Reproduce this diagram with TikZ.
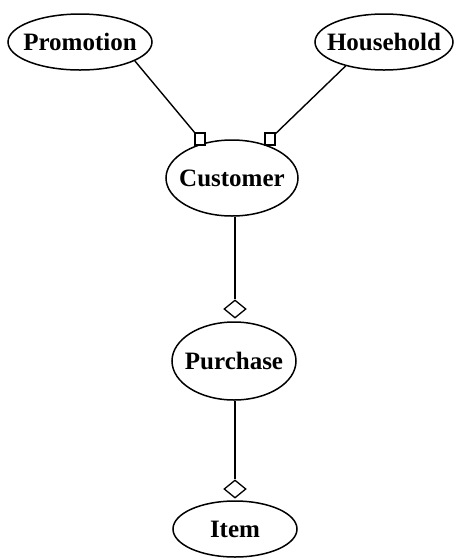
\documentclass[tikz,border=0pt]{standalone}
\usepackage{fontspec}
\setmainfont{Liberation Serif}
\usetikzlibrary{shapes.geometric}
\begin{document}
\begin{tikzpicture}[x=1pt,y=-1pt,
  ent/.style={ellipse,draw,line width=1.5pt,inner sep=0pt,fill=white},
  lbl/.style={font=\fontsize{25}{29}\selectfont\bfseries},
  sqmark/.style={rectangle,draw,line width=1.3pt,fill=white,minimum width=10pt,minimum height=12pt,inner sep=0pt},
  dmark/.style={diamond,draw,line width=1.3pt,fill=white,minimum width=22pt,minimum height=18pt,inner sep=0pt},
  conn/.style={line width=1.4pt}]
\useasboundingbox (0,0) rectangle (454,558);
\node[ent,minimum width=144pt,minimum height=56pt,label={[lbl]center:Promotion}] (prom) at (80,42) {};
\node[ent,minimum width=138pt,minimum height=56pt,label={[lbl]center:Household}] (hous) at (384,42) {};
\node[ent,minimum width=132pt,minimum height=76pt,label={[lbl]center:Customer}] (cust) at (232,178) {};
\node[ent,minimum width=124pt,minimum height=78pt,label={[lbl]center:Purchase}] (purc) at (234,361) {};
\node[ent,minimum width=124pt,minimum height=56pt,label={[lbl]center:Item}] (item) at (235,529) {};
\node[sqmark] (sq1) at (200,139) {};
\node[sqmark] (sq2) at (270,139) {};
\node[dmark] (d1) at (235,309) {};
\node[dmark] (d2) at (235,489) {};
\draw[conn] (prom.-19) -- (sq1);
\draw[conn] (hous.212) -- (sq2);
\draw[conn] (d1 |- cust.south) -- (d1);
\draw[conn] (d2 |- purc.south) -- (d2);
\end{tikzpicture}
\end{document}
